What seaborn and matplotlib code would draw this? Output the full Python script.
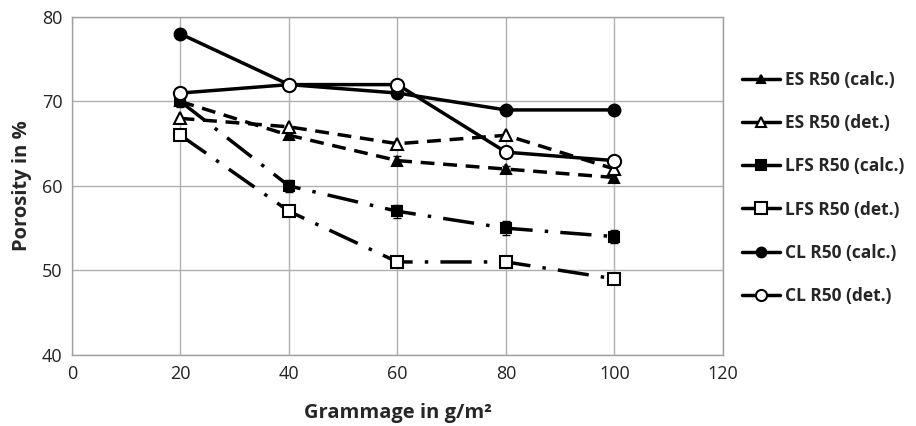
import numpy as np
import pandas as pd
import seaborn as sns
import matplotlib
matplotlib.use("Agg")
import matplotlib.pyplot as plt
from matplotlib.lines import Line2D

grammage = [20, 40, 60, 80, 100]
es_calc = [70, 66, 63, 62, 61]
es_det = [68, 67, 65, 66, 62]
lfs_calc = [70, 60, 57, 55, 54]
lfs_det = [66, 57, 51, 51, 49]
cl_calc = [78, 72, 71, 69, 69]
cl_det = [71, 72, 72, 64, 63]
lfs_calc_err = [0.6, 0.7, 0.8, 0.8, 0.8]
es_calc_err = [0.5, 0.5, 0.5, 0.4, 0.5]
labels = ["ES R50 (calc.)", "ES R50 (det.)", "LFS R50 (calc.)",
          "LFS R50 (det.)", "CL R50 (calc.)", "CL R50 (det.)"]

sns.set_style("white")
plt.rcParams['font.family'] = ['Open Sans', 'DejaVu Sans']

fig = plt.figure(figsize=(9.16, 4.26), dpi=100)
ax = fig.add_axes([0.0786, 0.167, 0.7107, 0.793])

series = [
    (es_calc, labels[0], '^', 'black', (0, (4, 2.5)), 7),
    (es_det, labels[1], '^', 'white', (0, (4, 2.5)), 8),
    (lfs_calc, labels[2], 's', 'black', (0, (9, 3.5, 1, 3.5)), 7.5),
    (lfs_det, labels[3], 's', 'white', (0, (9, 3.5, 1, 3.5)), 8.5),
    (cl_det, labels[5], 'o', 'white', '-', 9.5),
    (cl_calc, labels[4], 'o', 'black', '-', 8.5),
]

ax.errorbar(grammage, lfs_calc, yerr=lfs_calc_err, fmt='none', ecolor='black',
            elinewidth=1, capsize=3, zorder=2)
ax.errorbar(grammage, es_calc, yerr=es_calc_err, fmt='none', ecolor='black',
            elinewidth=1, capsize=3, zorder=2)

order_z = {labels[0]: 3, labels[1]: 4, labels[2]: 3, labels[3]: 4, labels[4]: 5, labels[5]: 6}
for vals, lab, m, fc, ls, ms in series:
    df = pd.DataFrame({"x": grammage, "y": vals})
    sns.lineplot(data=df, x="x", y="y", ax=ax, color='black', linewidth=2.5,
                 linestyle=ls, marker=m, markersize=ms, markerfacecolor=fc,
                 markeredgecolor='black', markeredgewidth=1.5, zorder=order_z[lab])

ax.set_xlim(0, 120)
ax.set_ylim(40, 80)
ax.set_xticks(range(0, 121, 20))
ax.set_yticks(range(40, 81, 10))
ax.grid(True, color='#b0b0b0', linewidth=1)
ax.set_axisbelow(True)
for s in ax.spines.values():
    s.set_color('#a0a0a0')
    s.set_linewidth(1)
ax.tick_params(axis='both', labelsize=13, length=4, width=1, color='#a0a0a0',
               direction='out', labelcolor='#222222')
ax.tick_params(axis='x', pad=3)
ax.tick_params(axis='y', pad=3)
ax.set_xlabel("Grammage in g/m²", fontsize=14.5, fontweight='bold', labelpad=15)
ax.set_ylabel("Porosity in %", fontsize=14.5, fontweight='bold', labelpad=7)

handles = []
leg_order = [(labels[0], '^', 'black', 6), (labels[1], '^', 'white', 7),
             (labels[2], 's', 'black', 7), (labels[3], 's', 'white', 8),
             (labels[4], 'o', 'black', 7), (labels[5], 'o', 'white', 8)]
for lab, m, fc, ms in leg_order:
    handles.append(Line2D([0], [0], color='black', linewidth=2.5, marker=m,
                          markersize=ms, markerfacecolor=fc, markeredgecolor='black',
                          markeredgewidth=1.5, label=lab))
leg = fig.legend(handles=handles, loc='upper left', bbox_to_anchor=(0.793, 0.87),
                 frameon=False, handlelength=2.2, handletextpad=0.3,
                 labelspacing=1.45, prop={'size': 12.5, 'weight': 'bold'})

fig.savefig("out.png", dpi=100)
